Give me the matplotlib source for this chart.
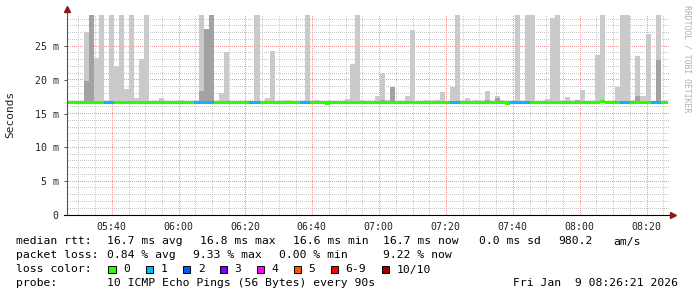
import matplotlib
matplotlib.use("Agg")
import matplotlib.pyplot as plt
from matplotlib.patches import Rectangle
from matplotlib.transforms import IdentityTransform
from matplotlib.ticker import MultipleLocator, FixedLocator, FuncFormatter, NullLocator
import numpy as np

# time axis in minutes after 05:00, one step = 90 s
step_start = 25.84
step_len = 1.5
n_steps = 121
x_range = (26.74, 206.57)

median_default = 16.7
median_idx = [52, 88, 107]
median_val = [16.62, 16.62, 16.78]

# smoke tops (ms), 31 means clipped at the top
light_idx = [4, 6, 7, 9, 10, 11, 12, 13, 14, 15, 16, 19, 23, 27, 31, 32, 38, 40, 41, 44,
             48, 50, 56, 57, 58, 59, 62, 63, 64, 68, 69, 72, 74, 75, 77, 78, 80, 82, 84, 86,
             87, 90, 92, 93, 96, 97, 98, 100, 103, 106, 107, 110, 111, 112, 113, 114, 115, 116, 118]
light_top = [27.1, 23.2, 31, 31, 22.1, 31, 18.6, 31, 17.3, 23.1, 31, 17.3, 17.0, 31, 18.0, 24.1, 31, 17.4, 24.3, 17.0,
             31, 17.0, 17.2, 22.3, 31, 17.0, 17.6, 21.0, 17.0, 17.7, 27.4, 17.0, 17.1, 18.2, 19.0, 31, 17.3, 17.0, 18.3, 17.6,
             17.0, 31, 31, 31, 17.2, 29.2, 31, 17.5, 18.5, 23.7, 31, 18.9, 31, 31, 17.0, 23.5, 17.7, 26.8, 31]
dark_idx = [4, 5, 27, 28, 29, 63, 65, 84, 86, 102, 114, 118]
dark_top = [19.8, 31, 18.3, 27.5, 31, 17.0, 19.0, 17.0, 17.3, 17.0, 17.6, 22.9]

# steps with 1/10 packets lost
loss1_idx = [8, 9, 26, 27, 28, 29, 37, 38, 47, 48, 77, 78, 89, 90, 91, 92, 111, 112, 117, 118]

loss_colors = ['#26ff00', '#00b8ff', '#0059ff', '#7e00ff', '#ff00ff', '#ff5500', '#ff0000', '#a10000']
loss_labels = ['0', '1', '2', '3', '4', '5', '6-9', '10/10']

rtt_fields = ['16.7 ms avg', '16.8 ms max', '16.6 ms min', '16.7 ms now', '0.0 ms sd', '980.2', 'am/s']
loss_fields = ['0.84 % avg', '9.33 % max', '0.00 % min', '9.22 % now']
probe_text = '10 ICMP Echo Pings (56 Bytes) every 90s'
stamp_text = 'Fri Jan  9 08:26:21 2026'

W, H = 697, 297
mono = 'DejaVu Sans Mono'

fig = plt.figure(figsize=(W / 100, H / 100), dpi=100)
fig.patch.set_facecolor('white')
ax = fig.add_axes([67 / W, (H - 215) / H, 601 / W, 200 / H])

t = step_start + step_len * np.arange(n_steps)
median = np.full(n_steps, median_default)
median[median_idx] = median_val
loss = np.zeros(n_steps, dtype=int)
loss[loss1_idx] = 1

# smoke
li = np.array(light_idx)
ax.bar(t[li], np.array(light_top) - median[li], bottom=median[li], width=step_len,
       align='edge', color='#cacaca', linewidth=0, zorder=2)
di = np.array(dark_idx)
ax.bar(t[di], np.array(dark_top) - median[di], bottom=median[di], width=step_len,
       align='edge', color='#a2a2a2', linewidth=0, zorder=3)

# median line coloured by loss
ax.bar(t, 0.5, bottom=median - 0.25, width=step_len, align='edge',
       color=[loss_colors[l] for l in loss], linewidth=0, zorder=4)

ax.set_xlim(*x_range)
ax.set_ylim(0, 200 / 6.75)

x_major = np.arange(40, 201, 20)
x_minor = np.arange(30, 206, 5)
y_major = np.arange(5, 26, 5)
y_minor = np.arange(1, 30, 1)

ax.xaxis.set_major_locator(FixedLocator(x_major))
ax.xaxis.set_minor_locator(NullLocator())
ax.yaxis.set_major_locator(FixedLocator(np.arange(0, 26, 5)))
ax.yaxis.set_minor_locator(NullLocator())

# dotted grid, drawn pixel by pixel (1 on / 1 off) like rrdtool
x0px, y0px = ax.transData.transform((x_range[0], 0))
x1px, y1px = ax.transData.transform((x_range[1], 200 / 6.75))


def dotted_grid(xvals, yvals, color, z):
    px, py = [], []
    hx = np.arange(np.floor(x0px) + 0.5, x1px, 2)
    for v in yvals:
        yy = np.floor(ax.transData.transform((x_range[0], v))[1]) + 0.5
        px.append(hx)
        py.append(np.full(hx.size, yy))
    vy = np.arange(np.floor(y0px) + 0.5, y1px, 2)
    for v in xvals:
        xx = np.floor(ax.transData.transform((v, 0))[0]) + 0.5
        px.append(np.full(vy.size, xx))
        py.append(vy)
    ax.plot(np.concatenate(px), np.concatenate(py), ',', color=color, transform=IdentityTransform(),
            clip_on=False, zorder=z)


dotted_grid([v for v in x_minor if v not in x_major], [v for v in y_minor if v % 5], '#c8c8c8', 0.5)
dotted_grid(x_major, y_major, '#e39b9b', 0.6)


def xfmt(v, pos):
    m = int(round(v))
    return f"{5 + m // 60:02d}:{m % 60:02d}"


ax.xaxis.set_major_formatter(FuncFormatter(xfmt))
ax.yaxis.set_major_formatter(FuncFormatter(lambda v, p: '0' if v == 0 else f"{int(v)} m"))
ax.tick_params(axis='x', which='both', length=0, pad=5, labelsize=7.1, labelcolor='#222222')
ax.tick_params(axis='y', which='major', length=2, width=0.7, color='#555555', pad=4,
               labelsize=7.1, labelcolor='#222222')
for lab in ax.get_xticklabels() + ax.get_yticklabels():
    lab.set_family(mono)

for s in ['top', 'right', 'left', 'bottom']:
    ax.spines[s].set_visible(False)

# axes with arrows
arrow_c = '#8b1a1a'
ax.plot([0, 0], [0, 1.025], transform=ax.transAxes, color='#555555', lw=0.8, clip_on=False, zorder=6)
ax.plot([-3 / 601, 1 + 4 / 601], [0, 0], transform=ax.transAxes, color='black', lw=0.8,
        clip_on=False, zorder=6)
ax.plot(0, 1.03, marker='^', ms=4, color=arrow_c, transform=ax.transAxes, clip_on=False, zorder=7)
ax.plot(1 + 5 / 601, 0, marker='>', ms=4, color=arrow_c, transform=ax.transAxes, clip_on=False, zorder=7)

fig.text(10 / W, 1 - 114 / H, 'Seconds', rotation=90, ha='center', va='center',
         family=mono, fontsize=8, color='#222222')
fig.text(687 / W, 1 - 5 / H, 'RRDTOOL / TOBI OETIKER', rotation=270, ha='center', va='top',
         family=mono, fontsize=5.9, color='#b0b0b0')


def ftext(x, ybase, s):
    fig.text(x / W, 1 - ybase / H, s, ha='left', va='baseline', family=mono,
             fontsize=8.2, color='black')


# legend rows
ftext(16, 244.5, 'median rtt:')
for x, s in zip([107.3, 200, 293.3, 382.7, 479.3, 558.3, 613.3], rtt_fields):
    ftext(x, 244.5, s)
ftext(16, 258.5, 'packet loss:')
for x, s in zip([107.3, 193.3, 279.3, 382.7], loss_fields):
    ftext(x, 258.5, s)
ftext(16, 272.5, 'loss color:')
box_x = [108.3, 145.7, 182.7, 219.7, 256.7, 293.7, 330.7, 381.7]
for bx, c, s in zip(box_x, loss_colors, loss_labels):
    fig.patches.append(Rectangle((bx / W, 1 - 273 / H), 7.3 / W, 7.3 / H, transform=fig.transFigure,
                                 facecolor=c, edgecolor='black', linewidth=0.7))
    ftext(bx + 15, 272.5, s)
ftext(16, 286.5, 'probe:')
ftext(107.3, 286.5, probe_text)
ftext(513.3, 286.5, stamp_text)

fig.savefig('out.png', dpi=100, facecolor='white')
